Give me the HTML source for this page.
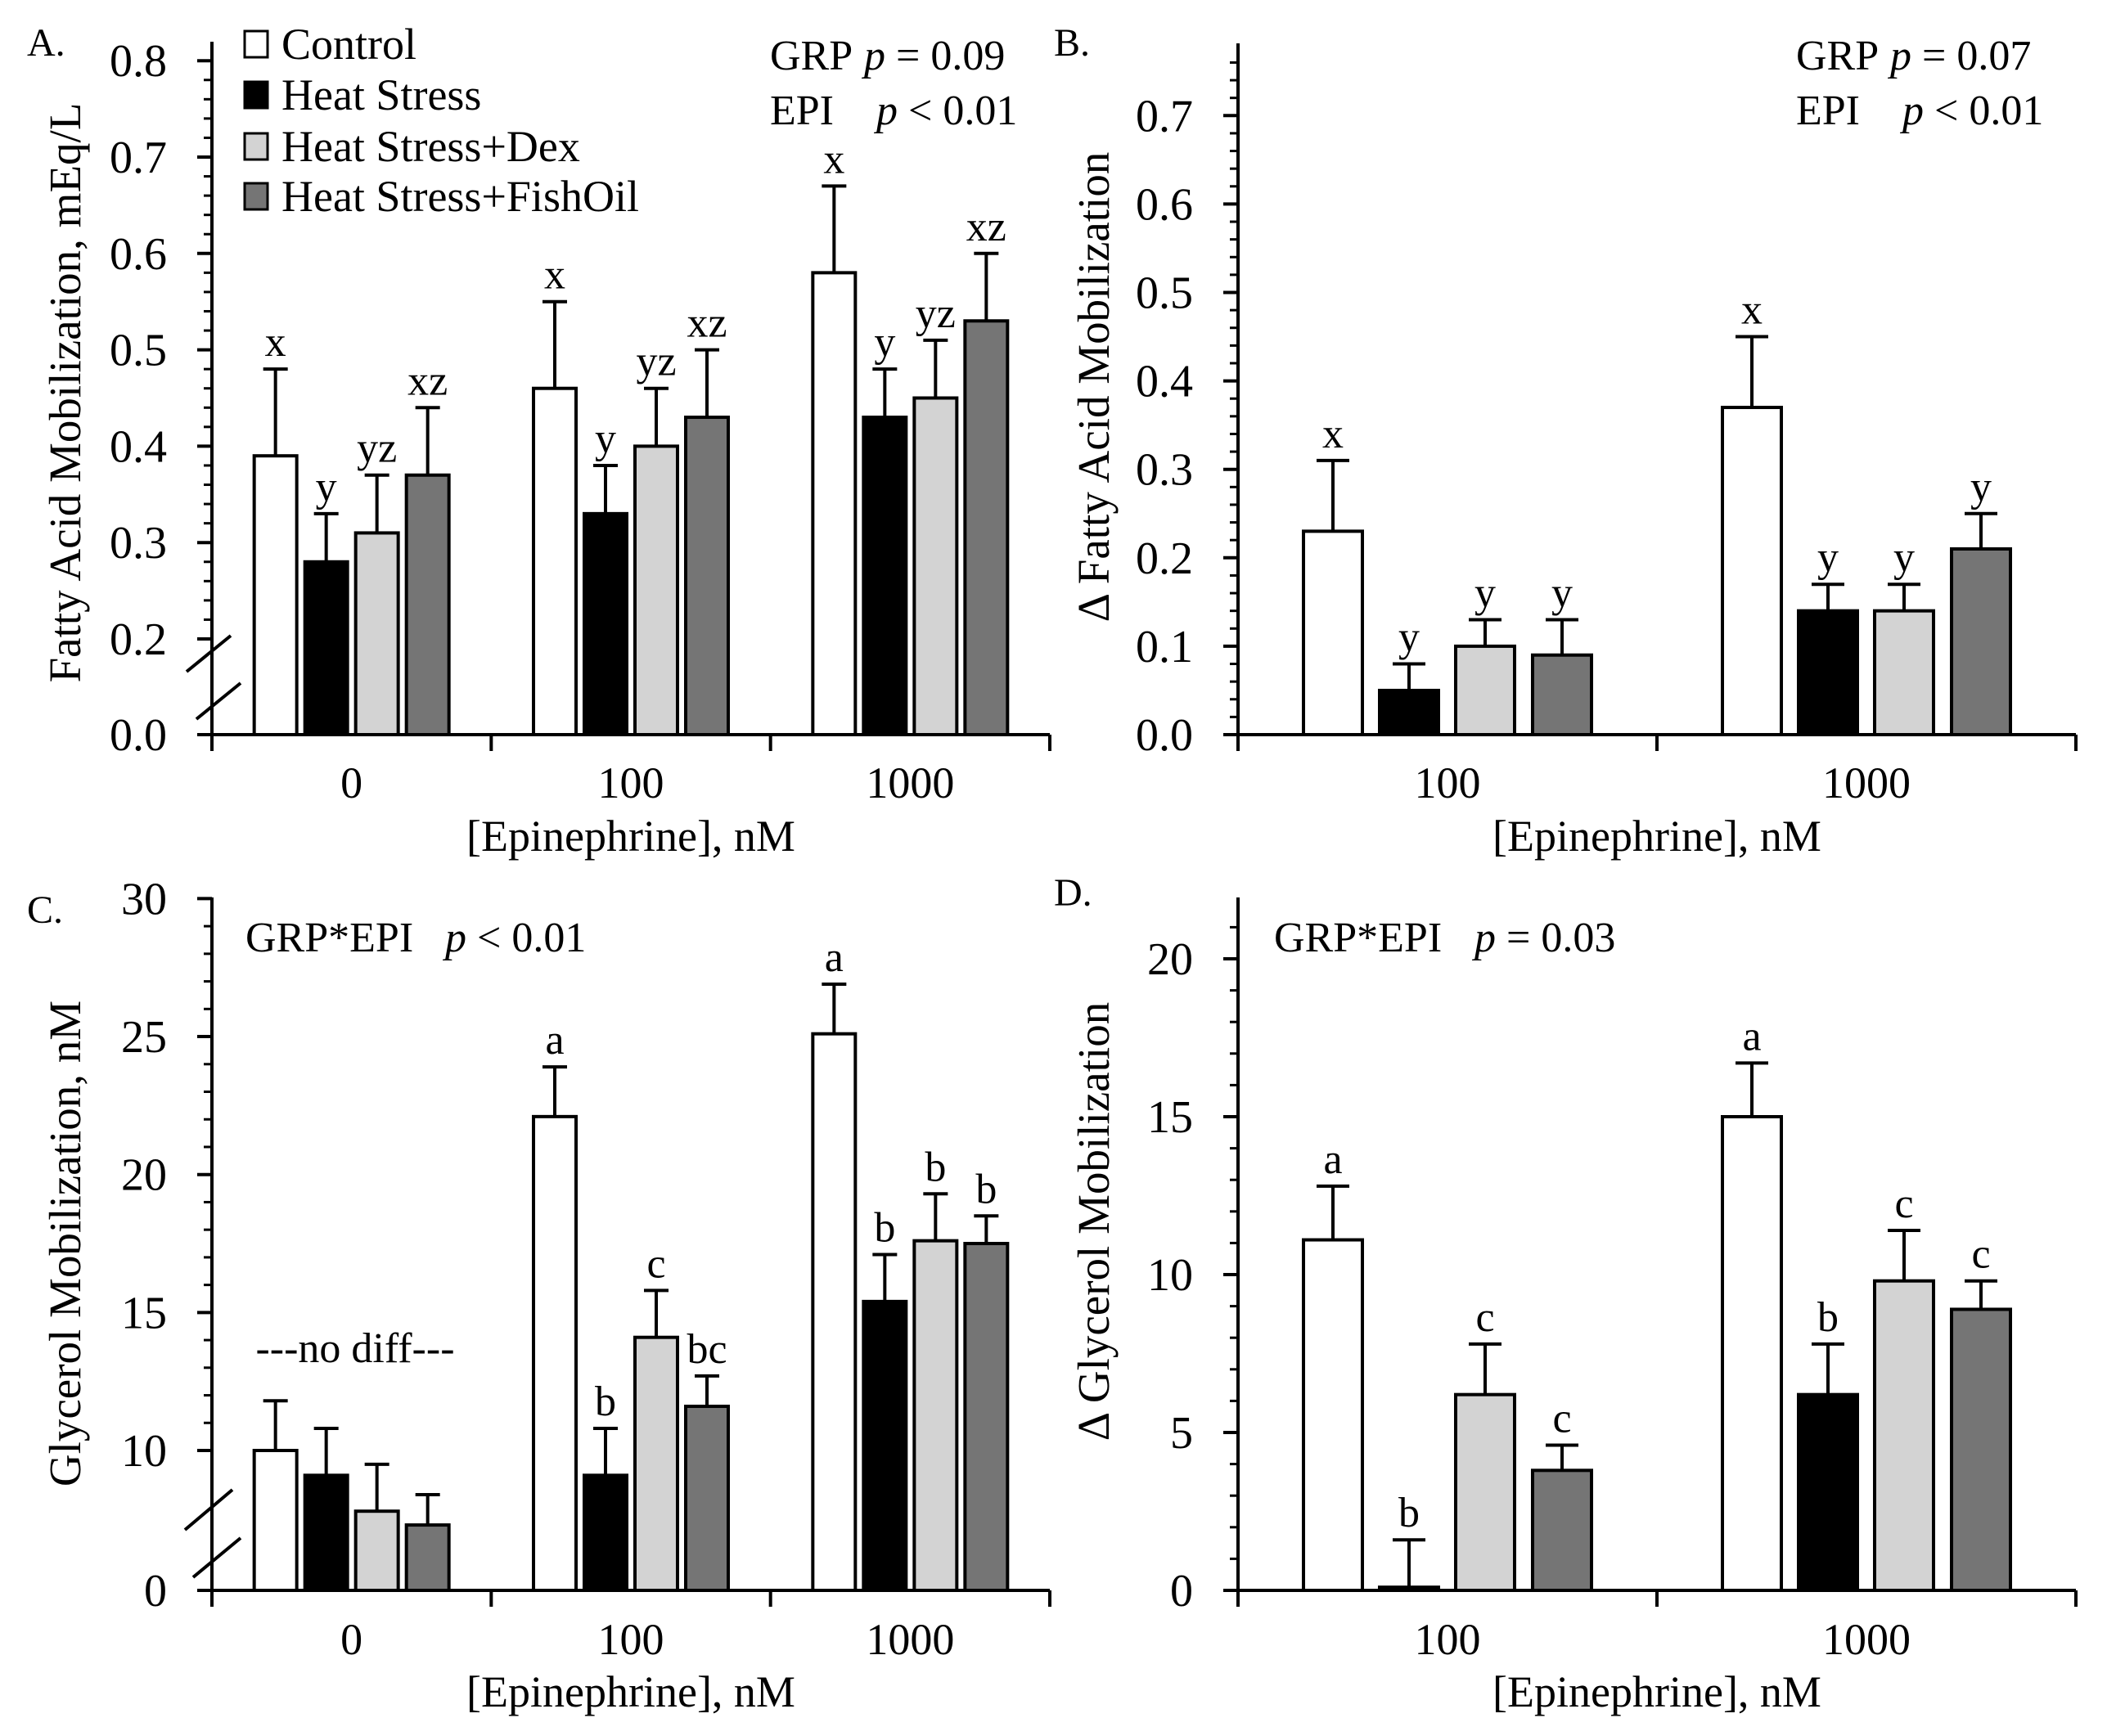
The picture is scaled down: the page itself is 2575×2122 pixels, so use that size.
<!DOCTYPE html>
<html><head><meta charset="utf-8"><style>
html,body{margin:0;padding:0;background:#fff;}
svg{display:block;font-family:"Liberation Serif",serif;}
</style></head><body>
<svg id="chart" width="2575" height="2122" viewBox="0 0 2575 2122" xmlns="http://www.w3.org/2000/svg"></svg>
<script>
// ---------- data ----------
const catsA = ['0','100','1000'];
const controlA = [0.39,0.46,0.58];
const heatA = [0.28,0.33,0.43];
const dexA = [0.31,0.40,0.45];
const fishA = [0.37,0.43,0.53];
const controlASem = [0.09,0.09,0.09];
const heatASem = [0.05,0.05,0.05];
const dexASem = [0.06,0.06,0.06];
const fishASem = [0.07,0.07,0.07];
const lettersA = [['x','y','yz','xz'],['x','y','yz','xz'],['x','y','yz','xz']];
const ticksA = ['0.0','0.2','0.3','0.4','0.5','0.6','0.7','0.8'];

const catsB = ['100','1000'];
const controlB = [0.23,0.37];
const heatB = [0.05,0.14];
const dexB = [0.10,0.14];
const fishB = [0.09,0.21];
const controlBSem = [0.08,0.08];
const heatBSem = [0.03,0.03];
const dexBSem = [0.03,0.03];
const fishBSem = [0.04,0.04];
const lettersB = [['x','y','y','y'],['x','y','y','y']];
const ticksB = ['0.0','0.1','0.2','0.3','0.4','0.5','0.6','0.7'];

const catsC = ['0','100','1000'];
const controlC = [10.0,22.1,25.1];
const heatC = [9.1,9.1,15.4];
const dexC = [7.8,14.1,17.6];
const fishC = [7.3,11.6,17.5];
const controlCSem = [1.8,1.8,1.8];
const heatCSem = [1.7,1.7,1.7];
const dexCSem = [1.7,1.7,1.7];
const fishCSem = [1.1,1.1,1.0];
const lettersC = [['','','',''],['a','b','c','bc'],['a','b','b','b']];
const ticksC = ['0','10','15','20','25','30'];

const catsD = ['100','1000'];
const controlD = [11.1,15.0];
const heatD = [0.1,6.2];
const dexD = [6.2,9.8];
const fishD = [3.8,8.9];
const controlDSem = [1.7,1.7];
const heatDSem = [1.5,1.6];
const dexDSem = [1.6,1.6];
const fishDSem = [0.8,0.9];
const lettersD = [['a','b','c','c'],['a','b','c','c']];
const ticksD = ['0','5','10','15','20'];

// ---------- drawing ----------
const NS = 'http://www.w3.org/2000/svg';
const svg = document.getElementById('chart');
function mk(tag, attrs, parent){
  const e = document.createElementNS(NS, tag);
  for (const k in attrs) e.setAttribute(k, attrs[k]);
  (parent || svg).appendChild(e);
  return e;
}
function txt(s, x, y, size, anchor, parent){
  const t = mk('text', {x:x, y:y, 'font-size':size, 'text-anchor':anchor||'start', fill:'#000'}, parent);
  t.textContent = s;
  return t;
}
const fills = ['#ffffff','#000000','#d3d3d3','#757575'];
const seriesNames = ['control','heat-stress','heat-stress-dex','heat-stress-fishoil'];

function panel(p){
  const g = mk('g', {});
  
  
  const n = p.cats.length;
  const gw = (p.x1 - p.x0) / n;
  for (let i = 0; i < n; i++){
    const cx = p.x0 + gw * (i + 0.5);
    for (let s = 0; s < 4; s++){
      const v = p.series[s][i];
      const sem = p.sems[s][i];
      const bx = cx + p.offs[s] - p.bw/2;
      const yt = p.y(v);
      const r = mk('rect', {x:bx, y:yt, width:p.bw, height:Math.max(0,p.base - yt), fill:fills[s], stroke:'#000', 'stroke-width':4}, g);
      
      
      const ye = p.y(v + sem);
      const bcx = cx + p.offs[s];
      const eb = mk('path', {d:'M'+bcx+' '+yt+'V'+ye+'M'+(bcx-p.cap)+' '+ye+'H'+(bcx+p.cap), stroke:'#000', 'stroke-width':4, fill:'none'}, g);
      
      
      const L = p.letters[i][s];
      if (L){
        const lt = txt(L, bcx, ye - 16, 52, 'middle', g);
        
        
      }
    }
    const cl = txt(p.cats[i], cx, p.catY, 54, 'middle', g);
    
    
  }
  const ax = mk('path', {d:'M'+p.x0+' '+p.top+'V'+p.base+'H'+p.x1, stroke:'#000', 'stroke-width':4, fill:'none'}, g);
  
  
  for (let i = 0; i <= n; i++){
    const tx = p.x0 + gw * i;
    const tk = mk('line', {x1:tx, x2:tx, y1:p.base, y2:p.base+20, stroke:'#000', 'stroke-width':4}, g);
    
    
  }
  p.ticks.forEach(function(lab){
    const v = parseFloat(lab);
    const ty = v === 0 ? p.base : p.y(v);
    const tk = mk('line', {x1:p.x0-18, x2:p.x0, y1:ty, y2:ty, stroke:'#000', 'stroke-width':4}, g);
    
    
    const tl = txt(lab, p.x0 - 55, ty + 19, 56, 'end', g);
    
    
  });
  for (let v = p.minorFrom; v < p.minorTo - 1e-9; v += p.minorStep){
    const ty = p.y(v);
    const mt = mk('line', {x1:p.x0-10, x2:p.x0, y1:ty, y2:ty, stroke:'#000', 'stroke-width':3}, g);
    
    
  }
  if (p.brk){
    p.brk.forEach(function(b){
      const sl = mk('line', {x1:b[0], y1:b[1], x2:b[2], y2:b[3], stroke:'#000', 'stroke-width':4}, g);
      
      
    });
  }
  const yl = txt(p.ylabel, 0, 0, 55, 'middle', g);
  yl.setAttribute('transform', 'translate(' + p.ylx + ',' + p.yly + ') rotate(-90)');
  
  
  const xl = txt('[Epinephrine], nM', (p.x0 + p.x1)/2, p.xtY, 54, 'middle', g);
  
  
  const pl = txt(p.panelLabel, p.plx, p.ply, 48, 'start', g);
  
  
  return g;
}

const offsAC = [-93,-31,31,93];
const offsBD = [-140,-47,46,140];

panel({name:'panel-a', cats:catsA, series:[controlA,heatA,dexA,fishA], sems:[controlASem,heatASem,dexASem,fishASem], letters:lettersA, ticks:ticksA,
  x0:259, x1:1283, top:51, base:898, bw:52, offs:offsAC, cap:15,
  y:function(v){ return v >= 0.15 ? 781 - (v-0.2)*1178 : 898 - v/0.2*117; },
  minorFrom:0.22, minorTo:0.82, minorStep:0.02, catY:975, xtY:1040,
  brk:[[228,821,282,777],[240,879,294,835]],
  ylabel:'Fatty Acid Mobilization,  mEq/L', ylx:98, yly:480, panelLabel:'A.', plx:33, ply:68});

panel({name:'panel-b', cats:catsB, series:[controlB,heatB,dexB,fishB], sems:[controlBSem,heatBSem,dexBSem,fishBSem], letters:lettersB, ticks:ticksB,
  x0:1513, x1:2537, top:53, base:898, bw:72, offs:offsBD, cap:20,
  y:function(v){ return 898 - v*1081; },
  minorFrom:0.02, minorTo:0.78, minorStep:0.02, catY:975, xtY:1040,
  ylabel:'\u0394 Fatty Acid Mobilization', ylx:1355, yly:473, panelLabel:'B.', plx:1288, ply:68});

panel({name:'panel-c', cats:catsC, series:[controlC,heatC,dexC,fishC], sems:[controlCSem,heatCSem,dexCSem,fishCSem], letters:lettersC, ticks:ticksC,
  x0:259, x1:1283, top:1097, base:1944, bw:52, offs:offsAC, cap:15,
  y:function(v){ return v >= 5 ? 1773 - (v-10)*33.73 : 1944 - v/5*2; },
  minorFrom:11, minorTo:30, minorStep:1, catY:2022, xtY:2086,
  brk:[[226,1870,284,1821],[236,1928,294,1880]],
  ylabel:'Glycerol Mobilization, nM', ylx:98, yly:1520, panelLabel:'C.', plx:33, ply:1128});

panel({name:'panel-d', cats:catsD, series:[controlD,heatD,dexD,fishD], sems:[controlDSem,heatDSem,dexDSem,fishDSem], letters:lettersD, ticks:ticksD,
  x0:1513, x1:2537, top:1097, base:1944, bw:72, offs:offsBD, cap:20,
  y:function(v){ return 1944 - v*38.6; },
  minorFrom:1, minorTo:21.5, minorStep:1, catY:2022, xtY:2086,
  ylabel:'\u0394 Glycerol Mobilization', ylx:1355, yly:1493, panelLabel:'D.', plx:1288, ply:1107});

// legend
const legLabels = ['Control','Heat Stress','Heat Stress+Dex','Heat Stress+FishOil'];
const legRows = [54,116,179,240];
const leg = mk('g', {});


for (let i = 0; i < 4; i++){
  const e = mk('g', {}, leg);
  
  
  const sw = mk('rect', {x:299, y:legRows[i]-16, width:28, height:32, fill:fills[i], stroke:'#000', 'stroke-width':3}, e);
  
  
  const lt = txt(legLabels[i], 344, legRows[i]+18, 54, 'start', e);
  
  
}

function stat(a, b, x, y, bx, name){
  const t = mk('text', {x:x, y:y, 'font-size':52, fill:'#000'});
  
  
  const s1 = mk('tspan', {}, t); s1.textContent = a;
  const s2 = mk('tspan', {x:bx, 'font-style':'italic'}, t); s2.textContent = 'p';
  const s3 = mk('tspan', {}, t); s3.textContent = b;
  return t;
}
stat('GRP', ' = 0.09', 941, 85, 1056, 'grp-p-value-a');
stat('EPI', ' < 0.01', 941, 152, 1071, 'epi-p-value-a');
stat('GRP', ' = 0.07', 2195, 85, 2310, 'grp-p-value-b');
stat('EPI', ' < 0.01', 2195, 152, 2325, 'epi-p-value-b');
stat('GRP*EPI', ' < 0.01', 300, 1163, 544, 'interaction-p-value-c');
stat('GRP*EPI', ' = 0.03', 1557, 1163, 1802, 'interaction-p-value-d');
const nd = txt('---no diff---', 434, 1665, 52, 'middle');


</script>
</body></html>
